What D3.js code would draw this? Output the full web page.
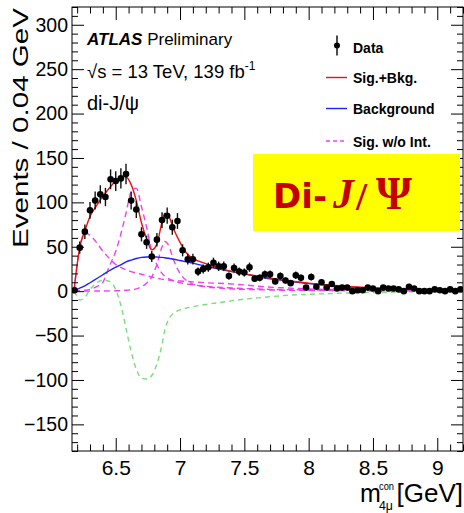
<!DOCTYPE html>
<html><head><meta charset="utf-8">
<script src="https://cdn.jsdelivr.net/npm/d3@7"></script>
<style>body{margin:0;background:#fff} svg{display:block}</style>
</head><body>
<svg id="c" width="464" height="513"></svg>
<script>
// ---- data ----
const massBins = [6.18,6.22,6.26,6.30,6.34,6.38,6.42,6.46,6.50,6.54,6.58,6.62,6.66,6.70,6.74,6.78,6.82,6.86,6.90,6.94,
  6.98,7.02,7.06,7.10,7.14,7.18,7.22,7.26,7.30,7.34,7.38,7.42,7.46,7.50,7.54,7.58,7.62,7.66,7.70,7.74,
  7.78,7.82,7.86,7.90,7.94,7.98,8.02,8.06,8.10,8.14,8.18,8.22,8.26,8.30,8.34,8.38,8.42,8.46,8.50,8.54,
  8.58,8.62,8.66,8.70,8.74,8.78,8.82,8.86,8.90,8.94,8.98,9.02,9.06,9.10,9.14,9.18];
const counts = [1,49,67,91,102,109,106,126,124,127,132,102,92,64,55,39,58,80,85,72,
  79,46,36,36,22,25,27,32,28,28,17,26,22,21,27,14,15,19,19,11,
  17,12,9,18,15,4,16,5,10,4,8,3,4,4,0,1,1,4,3,0,
  4,3,3,2,0,5,3,0,0,0,2,1,0,2,0,2];
const countErrors = [1,7,8.2,9.5,10.1,10.4,10.3,11.2,11.1,11.3,11.5,10.1,9.6,8,7.4,6.2,7.6,8.9,9.2,8.5,
  8.9,6.8,6,6,4.7,5,5.2,5.7,5.3,5.3,4.1,5.1,4.7,4.6,5.2,3.7,3.9,4.4,4.4,3.3,
  4.1,3.5,3,4.2,3.9,2,4,2.2,3.2,2,2.8,1.7,2,2,1,1,1,2,1.7,1,
  2,1.7,1.7,1.4,1,2.2,1.7,1,1,1,1.4,1,1,1.4,1,1.4];

const curveMass = [6.176,6.20,6.22,6.26,6.30,6.35,6.40,6.45,6.50,6.55,6.58,6.62,6.66,6.70,6.74,6.78,6.82,6.86,6.88,6.91,
  6.95,7.00,7.05,7.10,7.20,7.35,7.50,7.65,7.80,8.00,8.20,8.50,8.80,9.20];
const sigPlusBkg = [1,30,49,68,84,96,107,116,124,129,128.5,120,102,77,59,46.5,53,78,87.5,85,
  70,55,43,37,31,24,19.5,16,12.5,9,6.3,3.7,2.1,1.2];
const background = [0,2,3.5,6,9.5,14,18.5,23,27,30.5,33,35,36.8,38,38.5,38.6,38.4,38,37.6,37,
  36,34.5,33,31.5,28,23.5,19.5,15,12,8.5,6,3.5,2,1];
const interference = [0,-6,-10,-7,2,9,12.5,11,2,-22,-42,-68,-88,-98,-99,-95,-82,-60,-45,-32,
  -25,-21,-19,-17.5,-15,-12,-9,-7,-5,-3.5,-2.5,-1.5,-0.8,-0.2];
const sigLow = [0,30,48,66,63,55,45,37,30,26,24,22,20.5,19,17.5,16,14.5,13.5,13,12.5,
  12,11.5,11,10.5,9.5,8.5,7,5,3.8,2.5,1.8,1.2,0.8,0.5];
const sigMid = [0,0.3,0.5,1,2,5,10,28,45,70,88,112,116,95,72,45,30,20,17,14,
  11.5,9.5,8,7,5.5,4,3,2.3,1.8,1.3,1,0.7,0.5,0.3];
const sigHigh = [0,0,0,0,0,0.1,0.2,0.3,0.4,0.5,1,1.5,2.5,5,9,16,30,50,56,52,
  35,20,12,8,5,3,2,1.5,1.1,0.8,0.6,0.4,0.3,0.2];

const xTickValues = [6.5,7,7.5,8,8.5,9];
const xTickLabels = ["6.5","7","7.5","8","8.5","9"];
const yTickValues = [-150,-100,-50,0,50,100,150,200,250,300];
const legendLabels = ["Data","Sig.+Bkg.","Background","Sig. w/o Int."];

// ---- layout ----
const L=72,R=463,T=7,B=451;
const svg = d3.select("#c");
const x = d3.scaleLinear().domain([6.16,9.2]).range([L,R]);
const y = d3.scaleLinear().domain([-180,320]).range([B,T]);
const SANS = "'Liberation Sans', Arial, Helvetica, sans-serif";

svg.append("defs").append("clipPath").attr("id","clip")
  .append("rect").attr("x",L).attr("y",T).attr("width",R-L).attr("height",B-T);

// ---- curves ----
const plot = svg.append("g").attr("clip-path","url(#clip)");
const line = arr => d3.line().x((d,i)=>x(curveMass[i])).y(d=>y(d)).curve(d3.curveMonotoneX)(arr);

plot.append("path").attr("d",line(interference)).attr("fill","none")
  .attr("stroke","#7ddc7d").attr("stroke-width",1.4).attr("stroke-dasharray","5,4");
[sigLow,sigMid,sigHigh].forEach(s=>{
  plot.append("path").attr("d",line(s)).attr("fill","none")
    .attr("stroke","#f040f0").attr("stroke-width",1.4).attr("stroke-dasharray","6,4");
});
plot.append("path").attr("d",line(background)).attr("fill","none")
  .attr("stroke","#2020ff").attr("stroke-width",1.4);
plot.append("path").attr("d",line(sigPlusBkg)).attr("fill","none")
  .attr("stroke","#ee1010").attr("stroke-width",1.4);

// ---- data points ----
const pts = plot.append("g");
massBins.forEach((m,i)=>{
  pts.append("line").attr("x1",x(m)).attr("x2",x(m))
    .attr("y1",y(counts[i]-countErrors[i])).attr("y2",y(counts[i]+countErrors[i]))
    .attr("stroke","#111").attr("stroke-width",1.4);
  pts.append("circle").attr("cx",x(m)).attr("cy",y(counts[i])).attr("r",3.3).attr("fill","#000");
});

// ---- axes ----
function styleAxis(g, fs){
  g.select(".domain").remove();
  g.selectAll("line").attr("stroke","#000");
  g.selectAll("text").attr("font-family",SANS).attr("font-size",fs).attr("fill","#000");
}
const xMinor = x.ticks(30).filter(v=>!xTickValues.some(t=>Math.abs(t-v)<1e-6));
const yMinor = y.ticks(50).filter(v=>!yTickValues.includes(v));

svg.append("g").attr("transform",`translate(0,${B})`)
  .call(d3.axisBottom(x).tickValues(xTickValues).tickSize(-13).tickPadding(9)
    .tickFormat((d,i)=>xTickLabels[i])).call(g=>styleAxis(g,21));
svg.append("g").attr("transform",`translate(0,${B})`)
  .call(d3.axisBottom(x).tickValues(xMinor).tickSize(-6.5).tickFormat("")).call(g=>styleAxis(g,10));
svg.append("g").attr("transform",`translate(0,${T})`)
  .call(d3.axisTop(x).tickValues(xTickValues).tickSize(-13).tickFormat("")).call(g=>styleAxis(g,10));
svg.append("g").attr("transform",`translate(0,${T})`)
  .call(d3.axisTop(x).tickValues(xMinor).tickSize(-6.5).tickFormat("")).call(g=>styleAxis(g,10));

svg.append("g").attr("transform",`translate(${L},0)`)
  .call(d3.axisLeft(y).tickValues(yTickValues).tickSize(-12).tickPadding(4)
    .tickFormat(d3.format("d"))).call(g=>styleAxis(g,19.5));
svg.append("g").attr("transform",`translate(${L},0)`)
  .call(d3.axisLeft(y).tickValues(yMinor).tickSize(-6).tickFormat("")).call(g=>styleAxis(g,10));
svg.append("g").attr("transform",`translate(${R},0)`)
  .call(d3.axisRight(y).tickValues(yTickValues).tickSize(-12).tickFormat("")).call(g=>styleAxis(g,10));
svg.append("g").attr("transform",`translate(${R},0)`)
  .call(d3.axisRight(y).tickValues(yMinor).tickSize(-6).tickFormat("")).call(g=>styleAxis(g,10));

svg.append("rect").attr("x",L).attr("y",T).attr("width",R-L).attr("height",B-T)
  .attr("fill","none").attr("stroke","#000").attr("stroke-width",1);

// ---- axis titles ----
svg.append("text").attr("transform","translate(28,8) rotate(-90)")
  .attr("text-anchor","end").attr("font-family",SANS).attr("font-size",22)
  .attr("textLength",240).attr("lengthAdjust","spacingAndGlyphs")
  .text("Events / 0.04 GeV");

svg.append("text").attr("x",360).attr("y",502).attr("font-family",SANS).attr("font-size",25).text("m");
svg.append("text").attr("x",379).attr("y",490).attr("font-family",SANS).attr("font-size",11.5)
  .attr("textLength",15).attr("lengthAdjust","spacingAndGlyphs").text("con");
svg.append("text").attr("x",379).attr("y",510).attr("font-family",SANS).attr("font-size",13)
  .attr("textLength",14).attr("lengthAdjust","spacingAndGlyphs").text("4μ");
svg.append("text").attr("x",463).attr("y",502).attr("text-anchor","end")
  .attr("font-family",SANS).attr("font-size",26).text("[GeV]");

// ---- ATLAS labels ----
const t1 = svg.append("text").attr("x",87).attr("y",45).attr("font-family",SANS).attr("font-size",17);
t1.append("tspan").attr("font-weight","bold").attr("font-style","italic").text("ATLAS");
t1.append("tspan").text(" Preliminary");
const t2 = svg.append("text").attr("x",87).attr("y",78).attr("font-family",SANS).attr("font-size",18.5);
t2.append("tspan").text("√s = 13 TeV, 139 fb");
t2.append("tspan").attr("font-size",12).attr("dy",-8).text("-1");
svg.append("text").attr("x",87).attr("y",110).attr("font-family",SANS).attr("font-size",20).text("di-J/ψ");

// ---- legend ----
const LG = {lx1:326, lx2:347, tx:353};
const legY = [52.5, 83, 114, 146.5];
const lg = svg.append("g");
lg.append("line").attr("x1",337).attr("x2",337).attr("y1",legY[0]-17).attr("y2",legY[0]+3)
  .attr("stroke","#000").attr("stroke-width",1.4);
lg.append("circle").attr("cx",337).attr("cy",legY[0]-7).attr("r",3).attr("fill","#000");
const legStyles = [null,{c:"#ee1010",d:null},{c:"#2020ff",d:null},{c:"#f040f0",d:"4,3"}];
legendLabels.forEach((lab,i)=>{
  if(legStyles[i]){
    lg.append("line").attr("x1",LG.lx1).attr("x2",LG.lx2).attr("y1",legY[i]-5.5).attr("y2",legY[i]-5.5)
      .attr("stroke",legStyles[i].c).attr("stroke-width",1.4)
      .attr("stroke-dasharray",legStyles[i].d);
  }
  lg.append("text").attr("x",LG.tx).attr("y",legY[i]).attr("font-family",SANS)
    .attr("font-weight","bold").attr("font-size",14).text(lab);
});

// ---- Di-J/Psi box ----
svg.append("rect").attr("x",253).attr("y",154).attr("width",207).attr("height",77).attr("fill","#ffff00");
const red = "#c40000";
svg.append("text").attr("x",273).attr("y",208).attr("font-family","'DejaVu Sans', sans-serif")
  .attr("font-weight","bold").attr("font-size",34).attr("fill",red).text("Di-");
svg.append("text").attr("x",333).attr("y",208).attr("font-family","'Liberation Serif', serif")
  .attr("font-weight","bold").attr("font-style","italic").attr("font-size",42).attr("fill",red).text("J");
svg.append("text").attr("x",356).attr("y",210).attr("font-family","'Liberation Serif', serif")
  .attr("font-weight","bold").attr("font-size",40).attr("fill",red).text("/");
svg.append("text").attr("x",376).attr("y",209).attr("font-family","'Liberation Serif', serif")
  .attr("font-weight","bold").attr("font-size",46).attr("fill",red).text("Ψ");
</script>
</body></html>
